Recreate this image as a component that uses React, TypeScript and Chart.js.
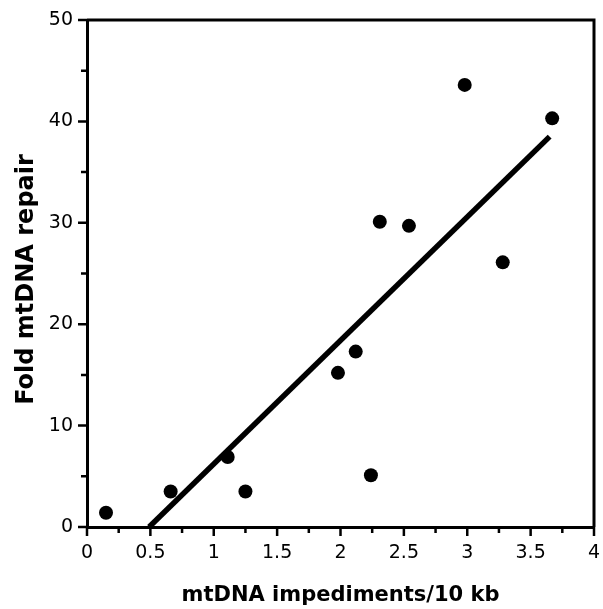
import React, { useEffect, useRef } from "react";
import { Chart, registerables } from "chart.js";

Chart.register(...registerables);

const xValues = [0.15, 0.66, 1.11, 1.25, 1.98, 2.12, 2.24, 2.31, 2.54, 2.98, 3.28, 3.67];
const yValues = [1.4, 3.5, 6.9, 3.5, 15.2, 17.3, 5.1, 30.1, 29.7, 43.6, 26.1, 40.3];
const fitX = [0.49, 3.65];
const fitY = [0, 38.5];
const xTitle = "mtDNA impediments/10 kb";
const yTitle = "Fold mtDNA repair";

const framePlugin = {
  id: "framePlugin",
  afterDraw(chart: any) {
    const { ctx, chartArea } = chart;
    const xs = chart.scales.x;
    const ys = chart.scales.y;
    ctx.save();
    ctx.strokeStyle = "#000";
    ctx.lineWidth = 3;
    ctx.beginPath();
    ctx.moveTo(chartArea.left, chartArea.top);
    ctx.lineTo(chartArea.right, chartArea.top);
    ctx.lineTo(chartArea.right, chartArea.bottom);
    ctx.stroke();
    ctx.lineWidth = 2.5;
    ctx.beginPath();
    for (let i = 0; i <= 16; i++) {
      const v = i * 0.25;
      const px = xs.getPixelForValue(v);
      const len = i % 2 === 0 ? 9 : 6;
      ctx.moveTo(px, chartArea.bottom);
      ctx.lineTo(px, chartArea.bottom + len);
    }
    for (let i = 0; i <= 10; i++) {
      const v = i * 5;
      const py = ys.getPixelForValue(v);
      const len = i % 2 === 0 ? 9 : 6;
      ctx.moveTo(chartArea.left, py);
      ctx.lineTo(chartArea.left - len, py);
    }
    ctx.stroke();
    ctx.fillStyle = "#000";
    ctx.font = "bold 21px 'DejaVu Sans'";
    ctx.textAlign = "center";
    ctx.textBaseline = "alphabetic";
    ctx.fillText(xTitle, (chartArea.left + chartArea.right) / 2, 601);
    ctx.translate(33, (chartArea.top + chartArea.bottom) / 2 + 6);
    ctx.rotate(-Math.PI / 2);
    ctx.font = "bold 24px 'DejaVu Sans'";
    ctx.fillText(yTitle, 0, 0);
    ctx.restore();
  },
};

export default function App() {
  const ref = useRef<HTMLCanvasElement | null>(null);
  useEffect(() => {
    document.body.style.margin = "0";
    const canvas = ref.current!;
    const points = xValues.map((x, i) => ({ x, y: yValues[i] }));
    const fit = fitX.map((x, i) => ({ x, y: fitY[i] }));
    const chart = new Chart(canvas, {
      type: "scatter",
      data: {
        datasets: [
          {
            type: "line",
            data: fit,
            borderColor: "#000",
            borderWidth: 5.5,
            pointRadius: 0,
            fill: false,
            borderCapStyle: "butt",
            order: 2,
          } as any,
          {
            data: points,
            backgroundColor: "#000",
            borderWidth: 0,
            pointRadius: 7,
            order: 1,
          },
        ],
      },
      options: {
        animation: false,
        responsive: false,
        layout: { padding: { top: 20, right: 9, left: 0, bottom: 0 } },
        plugins: { legend: { display: false }, tooltip: { enabled: false } },
        scales: {
          x: {
            type: "linear",
            min: 0,
            max: 4,
            afterFit: (s: any) => {
              s.height = 82;
              s.paddingLeft = 0;
              s.paddingRight = 0;
            },
            grid: { display: false, drawTicks: false },
            border: { display: true, color: "#000", width: 3 },
            ticks: {
              stepSize: 0.5,
              padding: 15,
              color: "#000",
              font: { family: "'DejaVu Sans'", size: 19 },
              callback: (v: any) => String(Number(v)),
            },
          },
          y: {
            type: "linear",
            min: 0,
            max: 50,
            afterFit: (s: any) => {
              s.width = 87;
              s.paddingTop = 0;
              s.paddingBottom = 0;
            },
            grid: { display: false, drawTicks: false },
            border: { display: true, color: "#000", width: 3 },
            ticks: {
              stepSize: 10,
              padding: 14,
              color: "#000",
              font: { family: "'DejaVu Sans'", size: 19 },
              callback: (v: any) => String(Number(v)),
            },
          },
        },
      },
      plugins: [framePlugin],
    });
    return () => chart.destroy();
  }, []);
  return <canvas ref={ref} width={603} height={609} style={{ display: "block" }} />;
}
